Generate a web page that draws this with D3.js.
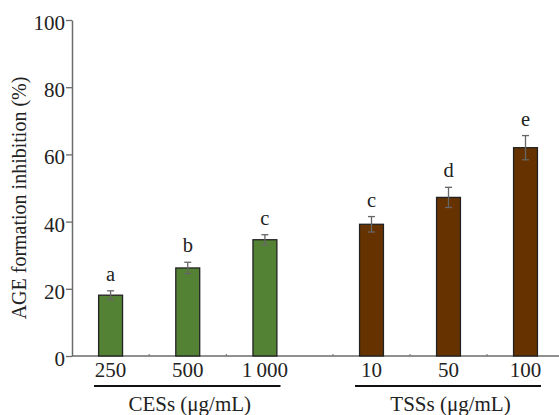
<!DOCTYPE html>
<html>
<head>
<meta charset="utf-8">
<script src="https://cdn.jsdelivr.net/npm/d3@7"></script>
<style>
  html, body { margin: 0; padding: 0; background: #fff; }
  text { font-family: "Liberation Serif", "Times New Roman", serif; fill: #222; }
</style>
</head>
<body>
<svg id="chart" width="559" height="415"></svg>
<script>
// ---- data ----
const cesLabels = ["250", "500", "1\u2009000"];
const cesValues = [18.1, 26.2, 34.6];
const cesErrors = [1.3, 1.7, 1.5];
const cesLetters = ["a", "b", "c"];

const tssLabels = ["10", "50", "100"];
const tssValues = [39.2, 47.2, 62.0];
const tssErrors = [2.3, 3.0, 3.6];
const tssLetters = ["c", "d", "e"];

const groupNames = ["CESs (\u03bcg/mL)", "TSSs (\u03bcg/mL)"];
const yTicks = [0, 20, 40, 60, 80, 100];

// ---- layout ----
const svg = d3.select("#chart");
const W = 559, H = 415;
const axisX = 72, axisY = 356, topY = 20;
const fontSize = 20.5;
const axisColor = "#6b6b6b";

const y = d3.scaleLinear().domain([0, 100]).range([axisY, topY]);

const groups = [
  { name: groupNames[0], labels: cesLabels, values: cesValues, errors: cesErrors, letters: cesLetters,
    fill: "#548235", range: [axisX, 303.5] },
  { name: groupNames[1], labels: tssLabels, values: tssValues, errors: tssErrors, letters: tssLetters,
    fill: "#663300", range: [333, 564] }
];

groups.forEach(g => {
  g.x = d3.scaleBand().domain(g.labels).range(g.range).paddingInner(0.69).paddingOuter(0.345);
  g.data = g.labels.map((l, i) => ({ label: l, value: g.values[i], err: g.errors[i], letter: g.letters[i] }));
});

// x axis line
svg.append("line")
  .attr("x1", axisX).attr("x2", W).attr("y1", axisY).attr("y2", axisY)
  .attr("stroke", axisColor).attr("stroke-width", 1.5);

// small boundary ticks on x axis
const boundaries = [];
groups.forEach((g, gi) => {
  g.labels.forEach((l, i) => {
    if (gi === 0 && i === 0) return;
    boundaries.push(g.x(l) - g.x.step() * g.x.paddingInner() / 2);
  });
});
svg.selectAll("line.xb").data(boundaries).join("line")
  .attr("class", "xb")
  .attr("x1", d => d).attr("x2", d => d)
  .attr("y1", axisY).attr("y2", axisY - 2)
  .attr("stroke", axisColor).attr("stroke-width", 1);

groups.forEach(g => {
  const gg = svg.append("g");
  const bw = g.x.bandwidth();

  // bars
  gg.selectAll("rect").data(g.data).join("rect")
    .attr("x", d => g.x(d.label))
    .attr("y", d => y(d.value))
    .attr("width", bw)
    .attr("height", d => axisY - y(d.value))
    .attr("fill", g.fill)
    .attr("stroke", "#222")
    .attr("stroke-width", 1.3);

  // error bars
  const eb = gg.selectAll("g.err").data(g.data).join("g").attr("class", "err")
    .attr("stroke", "#666").attr("stroke-width", 1.3);
  eb.append("line")
    .attr("x1", d => g.x(d.label) + bw / 2).attr("x2", d => g.x(d.label) + bw / 2)
    .attr("y1", d => y(d.value + d.err)).attr("y2", d => y(d.value - d.err));
  eb.append("line")
    .attr("x1", d => g.x(d.label) + bw / 2 - 3.5).attr("x2", d => g.x(d.label) + bw / 2 + 3.5)
    .attr("y1", d => y(d.value + d.err)).attr("y2", d => y(d.value + d.err));
  eb.append("line")
    .attr("x1", d => g.x(d.label) + bw / 2 - 3.5).attr("x2", d => g.x(d.label) + bw / 2 + 3.5)
    .attr("y1", d => y(d.value - d.err)).attr("y2", d => y(d.value - d.err));

  // significance letters
  gg.selectAll("text.sig").data(g.data).join("text").attr("class", "sig")
    .attr("x", d => g.x(d.label) + bw / 2)
    .attr("y", d => y(d.value + d.err) - 10)
    .attr("text-anchor", "middle")
    .attr("font-size", fontSize)
    .text(d => d.letter);

  // category tick labels
  const ax = svg.append("g")
    .attr("transform", `translate(0,${axisY})`)
    .call(d3.axisBottom(g.x).tickSize(0).tickPadding(6.5));
  ax.select(".domain").remove();
  ax.selectAll("text")
    .attr("font-size", 21)
    .attr("font-family", "'Liberation Serif', 'Times New Roman', serif")
    .attr("fill", "#222");

  // group underline
  const cx = (g.x(g.labels[0]) + g.x(g.labels[g.labels.length - 1]) + bw) / 2;
  svg.append("line")
    .attr("x1", g.range[0] + 22).attr("x2", g.range[1] - 23)
    .attr("y1", 386).attr("y2", 386)
    .attr("stroke", "#111").attr("stroke-width", 2);
  svg.append("text")
    .attr("x", cx + 2).attr("y", 411)
    .attr("text-anchor", "middle")
    .attr("font-size", 21)
    .text(g.name);
});

// y axis
const yAxis = svg.append("g")
  .attr("transform", `translate(${axisX},0)`)
  .call(d3.axisLeft(y).tickValues(yTicks).tickSize(6).tickPadding(1).tickSizeOuter(0));
yAxis.select(".domain").attr("stroke", axisColor).attr("stroke-width", 1.5);
yAxis.selectAll(".tick line").attr("stroke", axisColor).attr("stroke-width", 1.3);
yAxis.selectAll("text")
  .attr("font-size", 21)
  .attr("font-family", "'Liberation Serif', 'Times New Roman', serif")
  .attr("fill", "#222")
  .attr("dy", "0.45em");

// y label
svg.append("text")
  .attr("transform", `translate(26,${(axisY + topY) / 2 + 10}) rotate(-90)`)
  .attr("text-anchor", "middle")
  .attr("font-size", 20)
  .text("AGE formation inhibition (%)");
</script>
</body>
</html>
